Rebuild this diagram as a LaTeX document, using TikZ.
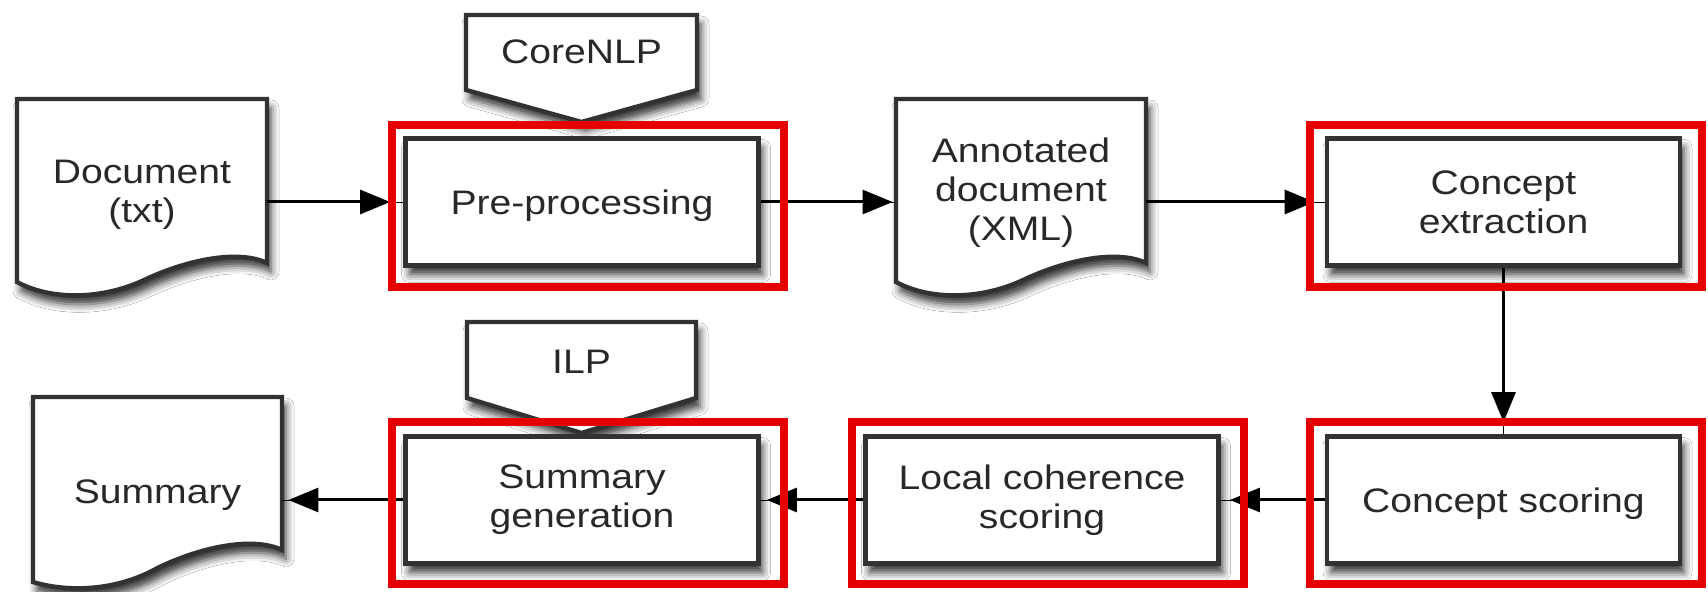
\documentclass[tikz,border=0pt]{standalone}
\usepackage{fontspec}
\setmainfont{Liberation Sans}[FakeStretch=1.15]
\usetikzlibrary{arrows.meta,shadows,shadows.blur}
\definecolor{frame}{RGB}{228,0,0}
\definecolor{edge}{RGB}{50,50,50}
\definecolor{txt}{RGB}{40,40,40}
\tikzset{
  every node/.style={font=\fontsize{17pt}{19.5pt}\selectfont, text=txt},
  softshadow/.style={blur shadow={shadow xshift=2pt, shadow yshift=-4.5pt, shadow blur radius=4pt, shadow opacity=80}},
  procbox/.style={draw=edge, line width=2.4pt, fill=white, minimum width=176.5pt, minimum height=63.5pt, align=center, inner sep=0pt, softshadow},
  oneline/.style={text depth=0pt},
  redframe/.style={draw=frame, line width=4pt, minimum width=196pt, minimum height=81pt, inner sep=0pt},
  shapeline/.style={draw=edge, line width=2.2pt, fill=white, line join=miter, softshadow},
  lbl/.style={align=center, inner sep=0pt},
  docnode/.style={align=center, inner sep=0pt, minimum width=125pt},
  conn/.style={draw=black, line width=1.5pt, -{Triangle[length=15pt,width=12pt]}, shorten >=#1,
    preaction={draw=black, arrows=-, shorten >=0pt}},
}
\begin{document}
\begin{tikzpicture}[x=0.5pt,y=-0.5pt]
\fill[white] (0,0) rectangle (1708,592);
\useasboundingbox (0,0) rectangle (1708,592);

% document shapes
\path[shapeline] (17,99) -- (267,99) -- (267,263) .. controls (240,250) and (190,258) .. (142,281) .. controls (100,300) and (50,300) .. (17,282) -- cycle;
\path[shapeline] (896,99) -- (1146,99) -- (1146,263) .. controls (1119,250) and (1069,258) .. (1021,281) .. controls (979,300) and (929,300) .. (896,282) -- cycle;
\path[shapeline] (33,397) -- (282,397) -- (282,550) .. controls (255,537) and (205,545) .. (157.5,568) .. controls (115,592) and (66,592) .. (33,582) -- cycle;

% off-page shapes
\path[shapeline] (466,15) -- (697,15) -- (697,90) -- (581.5,122) -- (466,90) -- cycle;
\path[shapeline] (467,322) -- (696,322) -- (696,398) -- (581.5,433) -- (467,398) -- cycle;

% texts of shapes
\node[docnode] (doc) at (142,195) {Document\\(txt)};
\node[docnode] (anno) at (1021,193) {Annotated\\document\\(XML)};
\node[docnode, minimum width=124.5pt, oneline] (summ) at (157.5,492) {Summary};
\node[lbl] (core) at (581.5,52) {CoreNLP};
\node[lbl] (ilp) at (581.5,362) {ILP};

% process boxes
\node[procbox, oneline] (pre) at (582,202) {Pre-processing};
\node[procbox] (cext) at (1503.5,202) {Concept\\extraction};
\node[procbox] (sgen) at (582,500) {Summary\\generation};
\node[procbox] (lcoh) at (1042,500) {Local coherence\\scoring};
\node[procbox, oneline] (cscore) at (1503.5,500) {Concept scoring};

% connectors
\draw[conn=6.5pt] (doc.east |- pre.west) -- (pre.west);
\draw[conn=1.5pt] (pre.east) -- (anno.west |- pre.east);
\draw[conn=5pt] (anno.east |- cext.west) -- (cext.west);
\draw[conn=6pt] (cext.south) -- (cscore.north);
\draw[conn=4.5pt] (cscore.west) -- (lcoh.east);
\draw[conn=3pt] (lcoh.west) -- (sgen.east);
\draw[conn=3pt] (sgen.west) -- (summ.east |- sgen.west);

% red highlight frames
\node[redframe] (fpre) at (587.5,206) {};
\node[redframe] (fcext) at (1505.5,206) {};
\node[redframe] (fsgen) at (587.5,503) {};
\node[redframe] (flcoh) at (1047.5,503) {};
\node[redframe] (fcscore) at (1505.5,503) {};
\end{tikzpicture}
\end{document}
